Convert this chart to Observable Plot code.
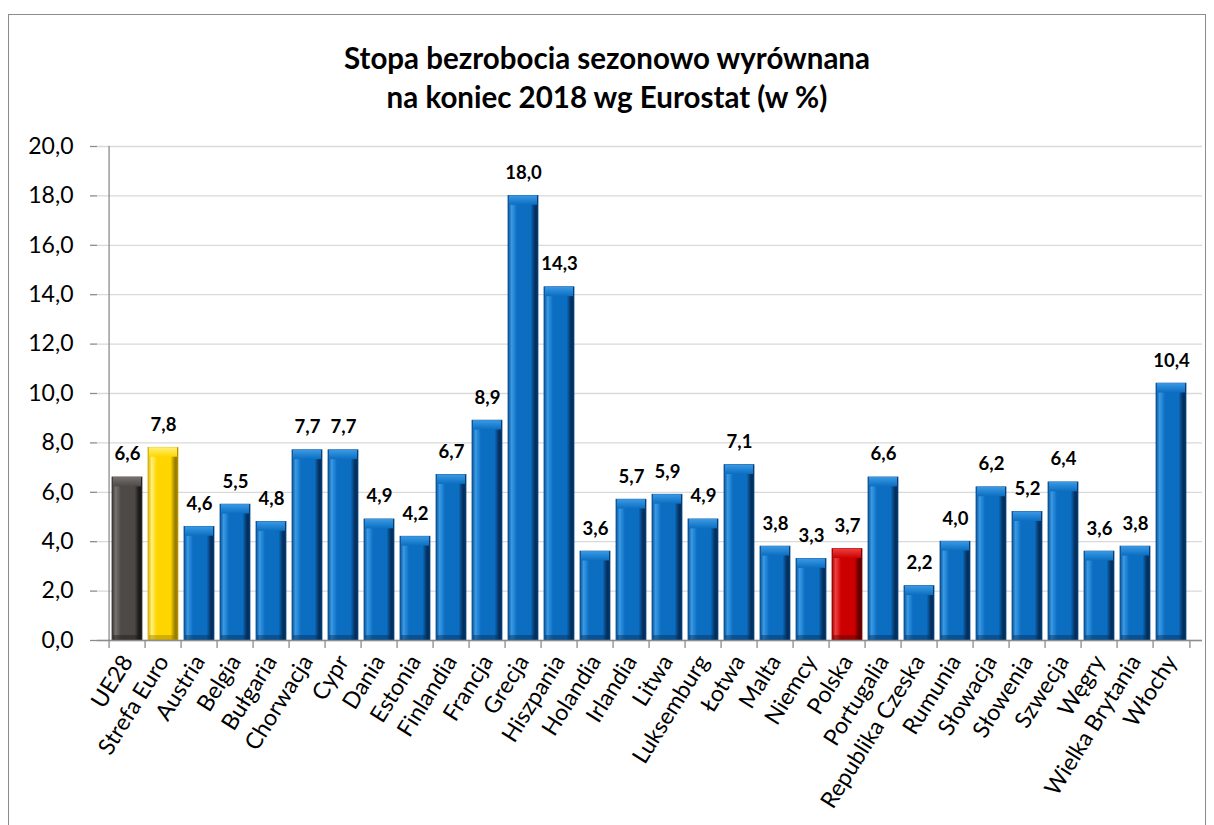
<!DOCTYPE html>
<html>
<head>
<meta charset="utf-8">
<script src="https://cdn.jsdelivr.net/npm/d3@7"></script>
<script src="https://cdn.jsdelivr.net/npm/@observablehq/plot@0.6"></script>
<style>
  html, body { margin: 0; padding: 0; background: #fff; }
  #frame { position: absolute; left: 8px; top: 14px; width: 1196px; height: 820px; border: 1px solid #8c8c8c; background: #fff; }
  #title { height: 105px; box-sizing: border-box; padding-top: 23px; text-align: center; font-family: Lato, "Open Sans", sans-serif; font-weight: bold; font-size: 29.5px; line-height: 39px; color: #000; }
  #chart svg { display: block; }
</style>
</head>
<body>
<div id="frame">
  <div id="title">Stopa bezrobocia sezonowo wyrównana<br>na koniec 2018 wg Eurostat (w %)</div>
  <div id="chart"></div>
</div>
<script>
const categories = ["UE28", "Strefa Euro", "Austria", "Belgia", "Bułgaria", "Chorwacja", "Cypr", "Dania", "Estonia", "Finlandia", "Francja", "Grecja", "Hiszpania", "Holandia", "Irlandia", "Litwa", "Luksemburg", "Łotwa", "Malta", "Niemcy", "Polska", "Portugalia", "Republika Czeska", "Rumunia", "Słowacja", "Słowenia", "Szwecja", "Węgry", "Wielka Brytania", "Włochy"];
const values = [6.6, 7.8, 4.6, 5.5, 4.8, 7.7, 7.7, 4.9, 4.2, 6.7, 8.9, 18.0, 14.3, 3.6, 5.7, 5.9, 4.9, 7.1, 3.8, 3.3, 3.7, 6.6, 2.2, 4.0, 6.2, 5.2, 6.4, 3.6, 3.8, 10.4];
const yTicks = [0, 2, 4, 6, 8, 10, 12, 14, 16, 18, 20];
const specialBars = {"UE28": "gray", "Strefa Euro": "yellow", "Polska": "red"};

const palettes = {
  blue:   {edge: "#0a4f92", light: "#3a9ae6", main: "#0b6ec0", dark: "#052f5c"},
  gray:   {edge: "#3a3735", light: "#77726f", main: "#4d4947", dark: "#1c1a19"},
  yellow: {edge: "#d8b000", light: "#fff07a", main: "#ffd500", dark: "#9a7e00"},
  red:    {edge: "#9a0000", light: "#f04040", main: "#cc0000", dark: "#5c0000"}
};

const data = categories.map((c, i) => ({cat: c, v: values[i], kind: specialBars[c] || "blue"}));
const fmt = d => d.toFixed(1).replace(".", ",");

const W = 1196, H = 705, ML = 88, MR = 3, MT = 26, MB = 185;
const step = (W - ML - MR) / categories.length;

const chart = Plot.plot({
  width: W, height: H,
  marginLeft: ML, marginRight: MR, marginTop: MT, marginBottom: MB,
  style: {fontFamily: "Lato, 'Open Sans', sans-serif", color: "#000", background: "#fff"},
  x: {domain: categories, paddingInner: 0.16, paddingOuter: 0.08, label: null},
  y: {domain: [0, 20], label: null},
  color: {type: "identity"},
  marks: [
    Plot.gridY(yTicks, {stroke: "#d9d9d9", strokeOpacity: 1, strokeWidth: 1.3}),
    Plot.barY(data, {x: "cat", y: "v", fill: d => `url(#gh-${d.kind})`, stroke: d => palettes[d.kind].edge, strokeWidth: 0.8}),
    Plot.barY(data, {x: "cat", y1: "v", y2: d => Math.max(0, d.v - 0.38), fill: d => `url(#gv-${d.kind})`, insetLeft: 1, insetRight: 1}),
    Plot.barY(data, {x: "cat", y1: 0, y2: 0.2, fill: d => palettes[d.kind].dark, fillOpacity: 0.45, insetLeft: 1, insetRight: 1}),
    Plot.ruleY([0], {stroke: "#8c8c8c", strokeWidth: 1.3}),
    Plot.ruleX([categories[0]], {dx: -step / 2, y1: 0, y2: 20, stroke: "#8c8c8c", strokeWidth: 1.3}),
    Plot.ruleX(categories, {x: d => d, dx: -step / 2, y1: 0, y2: 0, insetBottom: -8, stroke: "#8c8c8c", strokeWidth: 1.3}),
    Plot.ruleX([categories[categories.length - 1]], {dx: step / 2, y1: 0, y2: 0, insetBottom: -8, stroke: "#8c8c8c", strokeWidth: 1.3}),
    Plot.axisY({ticks: yTicks, tickFormat: fmt, tickSize: 7, tickPadding: 17, fontSize: 23, stroke: "#8c8c8c", strokeWidth: 1.3}),
    Plot.axisX({tickSize: 0, tickPadding: 17, tickRotate: -58, fontSize: 23}),
    Plot.text(data, {x: "cat", y: "v", text: d => fmt(d.v), dy: -23, fontWeight: "bold", fontSize: 18.5, fill: "#000"})
  ]
});

// gradient definitions for bevelled bars
const svg = d3.select(chart.tagName.toLowerCase() === "svg" ? chart : chart.querySelector("svg"));
const defs = svg.insert("defs", ":first-child");
for (const [k, p] of Object.entries(palettes)) {
  const h = defs.append("linearGradient").attr("id", `gh-${k}`).attr("x1", 0).attr("x2", 1).attr("y1", 0).attr("y2", 0);
  [[0, p.edge], [0.12, p.light], [0.3, p.main], [0.75, p.main], [0.9, p.dark], [1, p.dark]]
    .forEach(([o, c]) => h.append("stop").attr("offset", o).attr("stop-color", c));
  const v = defs.append("linearGradient").attr("id", `gv-${k}`).attr("x1", 0).attr("x2", 0).attr("y1", 0).attr("y2", 1);
  [[0, p.light], [1, p.main]].forEach(([o, c]) => v.append("stop").attr("offset", o).attr("stop-color", c));
}

document.getElementById("chart").appendChild(chart);
</script>
</body>
</html>
